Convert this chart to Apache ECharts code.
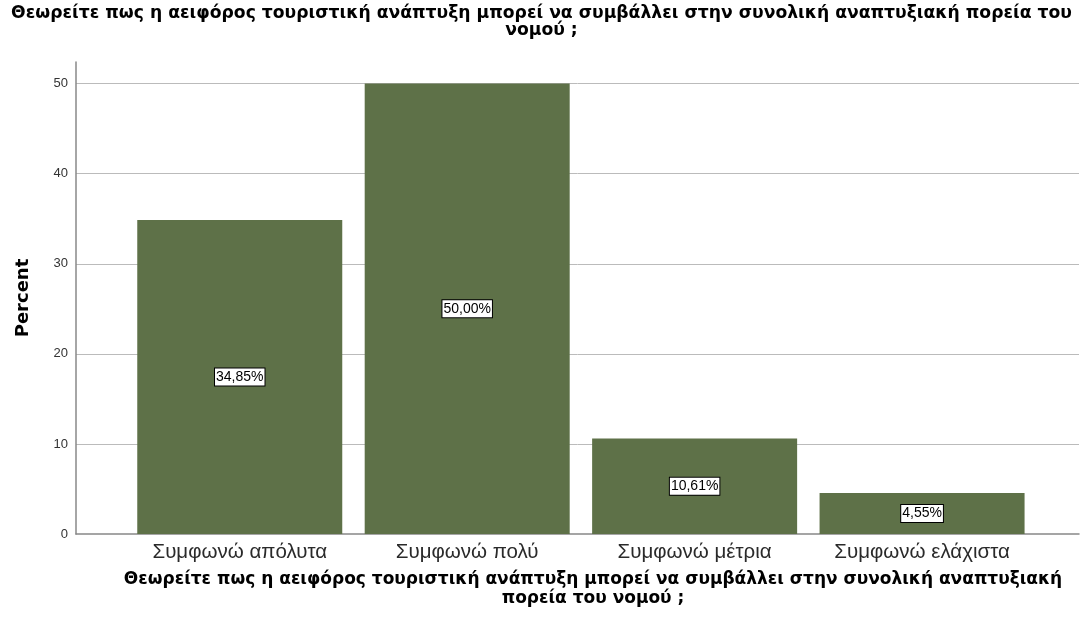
<!DOCTYPE html>
<html lang="el">
<head>
    <meta charset="UTF-8">
    <title>Percent</title>
    <style>
        html, body { margin: 0; padding: 0; background: #fff; }
    </style>
</head>
<body>
<div id="main" style="width: 1083px;height:627px;"></div>
<script src="https://cdn.jsdelivr.net/npm/echarts@6/dist/echarts.min.js"></script>
<script>
    var question = 'Θεωρείτε πως η αειφόρος τουριστική ανάπτυξη μπορεί να συμβάλλει στην συνολική αναπτυξιακή πορεία του\nνομού ;';
    var axisTitle = 'Θεωρείτε πως η αειφόρος τουριστική ανάπτυξη μπορεί να συμβάλλει στην συνολική αναπτυξιακή\nπορεία του νομού ;';
    var categories = ['Συμφωνώ απόλυτα', 'Συμφωνώ πολύ', 'Συμφωνώ μέτρια', 'Συμφωνώ ελάχιστα'];
    var percents = [34.85, 50.00, 10.61, 4.55];
    var yTicks = [0, 10, 20, 30, 40, 50];

    var data = [];
    for (var i in percents) {
        data.push([Number(i), percents[i]]);
    }

    var myChart = echarts.init(document.getElementById('main'));
    var font = 'Liberation Sans, Arial, sans-serif';
    var boldFont = 'DejaVu Sans, sans-serif';
    var option = {
        animation: false,
        title: [{
            text: question,
            left: 'center',
            top: 0,
            textStyle: {fontSize: 17.2, fontWeight: 'bold', color: '#000', fontFamily: boldFont, lineHeight: 17, align: 'center'}
        }, {
            text: axisTitle,
            left: 588,
            top: 565,
            textAlign: 'center',
            textStyle: {fontSize: 17, fontWeight: 'bold', color: '#000', fontFamily: boldFont, lineHeight: 19, align: 'center'}
        }],
        grid: {left: 76, right: 4, top: 62, bottom: 93},
        xAxis: {
            type: 'value',
            min: -0.72,
            max: 3.69,
            splitLine: {show: false},
            axisLine: {show: true, onZero: false, lineStyle: {color: '#888', width: 1.5}},
            axisTick: {show: false},
            axisLabel: {
                customValues: [0, 1, 2, 3],
                formatter: function (v) { return categories[Math.round(v)]; },
                fontSize: 20.5, color: '#2a2a2a', fontFamily: font, margin: 8
            }
        },
        yAxis: {
            type: 'value',
            min: 0,
            max: 52.4,
            name: 'Percent',
            nameLocation: 'middle',
            nameGap: 44,
            nameTextStyle: {fontSize: 18, fontWeight: 'bold', color: '#000', fontFamily: boldFont},
            axisLine: {show: true, onZero: false, lineStyle: {color: '#888', width: 1.5}},
            axisTick: {show: false},
            axisLabel: {customValues: yTicks, fontSize: 13, color: '#333', fontFamily: font, margin: 8},
            splitLine: {show: true, showMinLine: false, showMaxLine: false, lineStyle: {color: '#bbb', width: 1}}
        },
        series: [{
            type: 'bar',
            barWidth: 205,
            data: data,
            itemStyle: {color: '#5e7148'},
            label: {
                show: true,
                position: 'inside',
                formatter: function (p) { return p.value[1].toFixed(2).replace('.', ',') + '%'; },
                fontSize: 14,
                color: '#000',
                fontFamily: font,
                backgroundColor: '#fff',
                borderColor: '#000',
                borderWidth: 1,
                padding: [2, 1, 1, 1]
            }
        }]
    };
    myChart.setOption(option);
</script>
</body>
</html>
